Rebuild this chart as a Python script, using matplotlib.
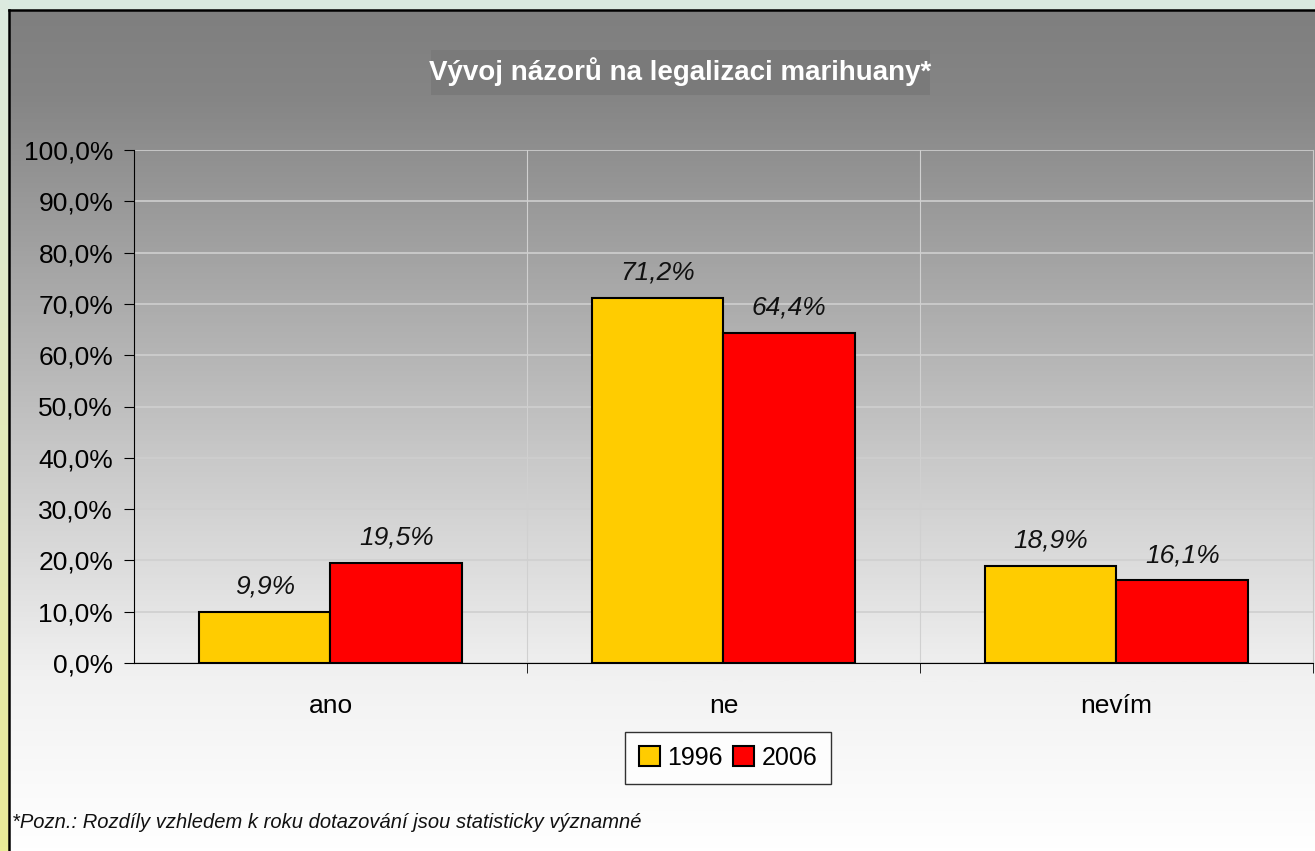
import numpy as np
import matplotlib
matplotlib.use('Agg')
import matplotlib.pyplot as plt
from matplotlib.colors import LinearSegmentedColormap
from matplotlib.patches import Rectangle, Patch

# data
categories = ['ano', 'ne', 'nevím']
years = ['1996', '2006']
v1996 = [9.9, 71.2, 18.9]
v2006 = [19.5, 64.4, 16.1]
colors = ['#FFCC00', '#FF0000']

FONT = ['Liberation Sans Narrow', 'Liberation Sans', 'DejaVu Sans']
plt.rcParams['font.family'] = FONT

W, H = 1315, 851
fig = plt.figure(figsize=(W / 100, H / 100), dpi=100)
fig.patch.set_facecolor('#DAEAE0')

def fx(x):
    return x / W

def fy(y):
    return 1 - y / H

# left strip: green -> yellow
strip = fig.add_axes([0, 0, fx(9), fy(0)])
strip.imshow(np.linspace(0, 1, 200).reshape(-1, 1), aspect='auto',
             cmap=LinearSegmentedColormap.from_list('s', ['#DCEADF', '#E9EC98']),
             extent=[0, 1, 1, 0])
strip.axis('off')

# gray gradient chart area
bg = fig.add_axes([fx(9), 0, 1 - fx(9), fy(10)])
bg.imshow(np.linspace(0, 1, 400).reshape(-1, 1), aspect='auto',
          cmap=LinearSegmentedColormap.from_list('g', [(0, '#7F7F7F'), (0.1, '#858585'),
                                                       (0.8, '#F2F2F2'), (1, '#FFFFFF')]),
          extent=[0, 1, 1, 0])
bg.set_xticks([])
bg.set_yticks([])
for side in ['right', 'bottom']:
    bg.spines[side].set_visible(False)
for side in ['left', 'top']:
    bg.spines[side].set_linewidth(1.8)
    bg.spines[side].set_color('black')

# title box
fig.patches.append(Rectangle((fx(431), fy(95)), fx(930 - 431), fy(50) - fy(95),
                             transform=fig.transFigure, facecolor='#7A7A7A', edgecolor='none'))
fig.text(fx(680), fy(72), 'Vývoj názorů na legalizaci marihuany*', ha='center', va='center',
         color='white', fontsize=20, fontweight='bold')

ax = fig.add_axes([fx(134), fy(663), fx(1313 - 134), fy(150) - fy(663)])
ax.patch.set_alpha(0)

x = np.arange(len(categories))
bw = 0.335
bars1 = ax.bar(x - bw / 2, v1996, bw, color=colors[0], edgecolor='black', linewidth=1.5, label=years[0], zorder=3)
bars2 = ax.bar(x + bw / 2, v2006, bw, color=colors[1], edgecolor='black', linewidth=1.5, label=years[1], zorder=3)

for bars, vals in [(bars1, v1996), (bars2, v2006)]:
    for b, v in zip(bars, vals):
        ax.text(b.get_x() + b.get_width() / 2, v + 2.6, f'{v:.1f}%'.replace('.', ','),
                ha='center', va='bottom', fontsize=19, fontstyle='italic', color='#111111')

ax.set_xlim(-0.5, 2.5)
ax.set_ylim(0, 100)
ax.set_yticks(np.arange(0, 101, 10))
ax.set_yticklabels([f'{t:.1f}%'.replace('.', ',') for t in np.arange(0, 101, 10)], fontsize=19)
ax.yaxis.grid(True, color='#CFCFCF', linewidth=1.2, zorder=0)
for xv in [0.5, 1.5]:
    ax.axvline(xv, color='#D0D0D0', linewidth=0.8, zorder=0)

ax.set_xticks(x)
ax.set_xticklabels(categories, fontsize=19)
ax.tick_params(axis='x', length=0, pad=22)
ax.set_xticks([0.5, 1.5, 2.5], minor=True)
ax.tick_params(axis='x', which='minor', length=7, direction='out', color='black')
ax.tick_params(axis='y', length=7, direction='out', color='black', pad=8)

ax.spines['top'].set_visible(False)
ax.spines['right'].set_color('#C8C8C8')
ax.spines['left'].set_color('black')
ax.spines['bottom'].set_color('black')

handles = [Patch(facecolor=colors[0], edgecolor='black', linewidth=1.5),
           Patch(facecolor=colors[1], edgecolor='black', linewidth=1.5)]
leg = fig.legend(handles, years, loc='center', bbox_to_anchor=(fx(728), fy(758)), ncol=2,
                 fontsize=18, frameon=True, fancybox=False, edgecolor='black',
                 handlelength=0.85, handleheight=0.85, handletextpad=0.3, columnspacing=0.4,
                 borderpad=0.55, borderaxespad=0)
leg.get_frame().set_facecolor('white')
leg.get_frame().set_linewidth(1)

fig.text(fx(12), fy(822), '*Pozn.: Rozdíly vzhledem k roku dotazování jsou statisticky významné',
         ha='left', va='center', fontsize=14.5, fontstyle='italic', color='#111111')

fig.savefig('out.png', dpi=100)
